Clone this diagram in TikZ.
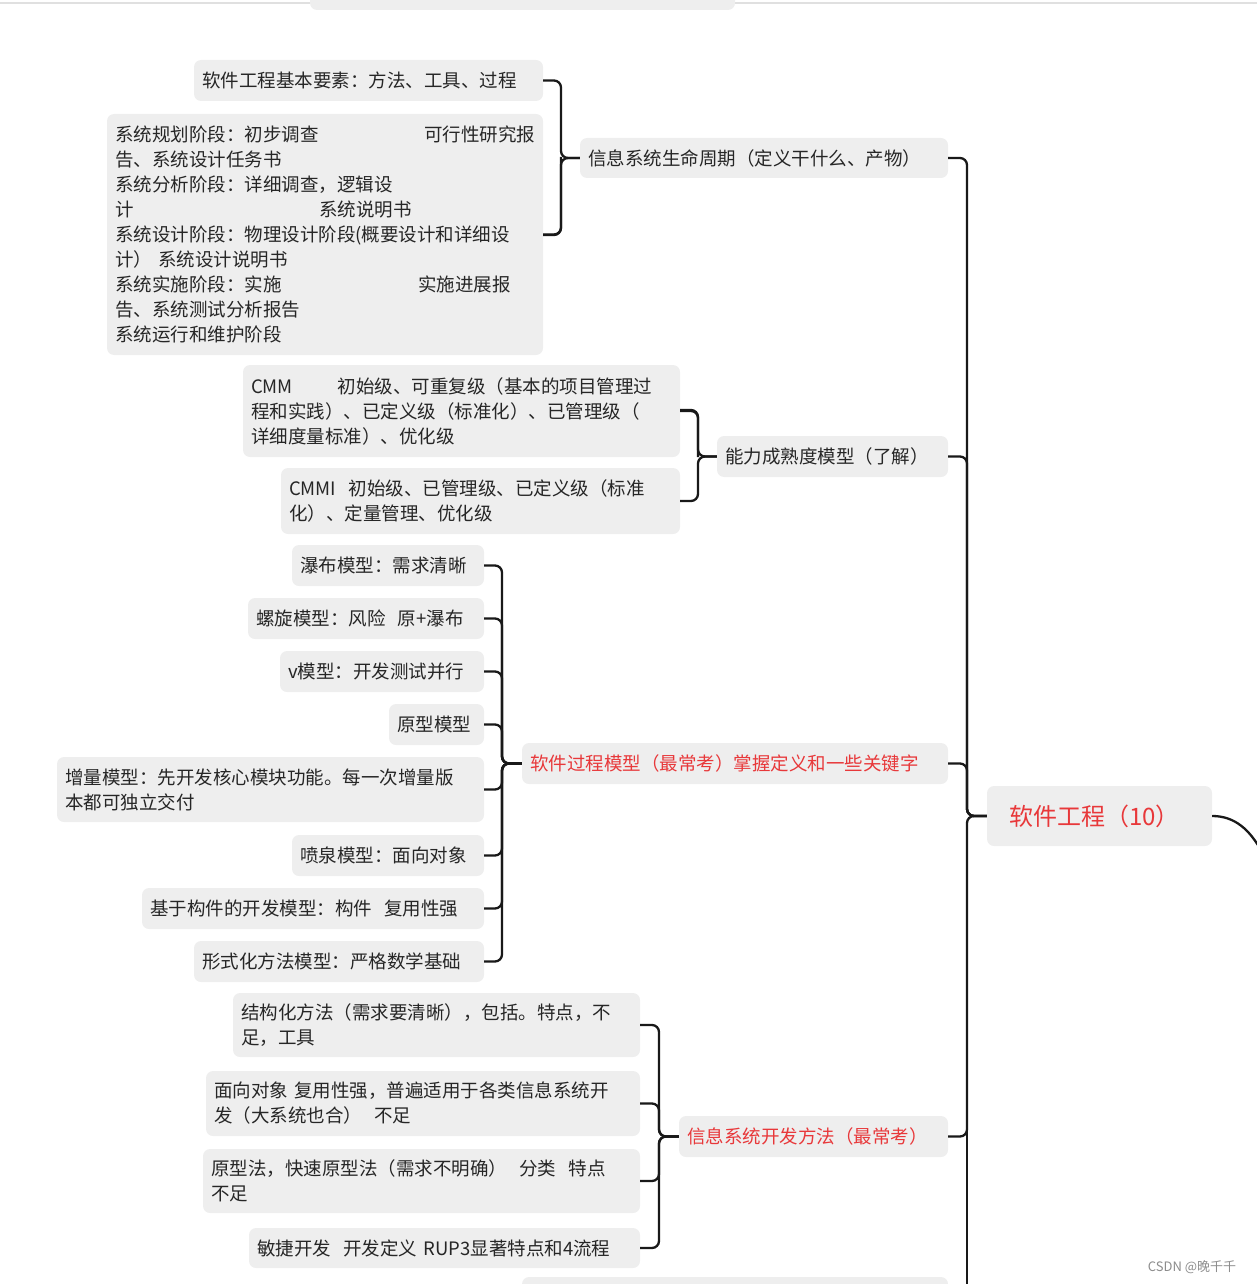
\documentclass[tikz,border=0pt]{standalone}
\usepackage{fontspec}
\setmainfont{Noto Sans CJK SC}
\definecolor{bxg}{HTML}{EEEEEE}
\definecolor{myred}{HTML}{E8383A}
\tikzset{box/.style={fill=bxg,rounded corners=7pt,inner sep=0pt,align=left,font=\fontsize{18.5}{25}\selectfont,text=black!85},
conn/.style={line width=2.3pt,rounded corners=7pt,draw=black!90}}
\newcommand\bx[6][]{\pgfmathsetmacro\tw{#5-#3-16}\node[box,minimum width={(#5-#3)*1pt},minimum height={(#6-#4)*1pt},text width=\tw pt,#1] (#2) at ({(#3+#5)/2},{(#4+#6)/2}) {#6};}
\newcommand\bxx[7][]{\pgfmathsetmacro\tw{#5-#3-16}\node[box,minimum width={(#5-#3)*1pt},minimum height={(#6-#4)*1pt},text width=\tw pt,#1] (#2) at ({(#3+#5)/2},{(#4+#6)/2}) {#7};}
\begin{document}
\begin{tikzpicture}[x=1pt,y=-1pt]
\useasboundingbox (0,0) rectangle (1257,1284);
\draw[black!12,line width=1.5pt] (0,3) -- (1257,3);
\fill[bxg,rounded corners=7pt] (310,-20) rectangle (735,10);
\fill[bxg,rounded corners=7pt] (522,1277) rectangle (948,1300);
\bxx{a1}{194}{60}{543}{101}{软件工程基本要素：方法、工具、过程}
\bxx{a2}{107}{114}{543}{355}{系统规划阶段：初步调查\hfill 可行性研究报\\告、系统设计任务书\\系统分析阶段：详细调查，逻辑设\\\makebox[204pt][l]{计}系统说明书\\系统设计阶段：物理设计阶段(概要设计和详细设\\计）\ 系统设计说明书\\\makebox[303pt][l]{系统实施阶段：实施}实施进展报\\告、系统测试分析报告\\系统运行和维护阶段}
\bxx{a}{580}{138}{948}{178}{信息系统生命周期（定义干什么、产物）}
\bxx{b1}{243}{365}{680}{457}{\makebox[87pt][l]{CMM}初始级、可重复级（基本的项目管理过\\程和实践）、已定义级（标准化）、已管理级（\\详细度量标准）、优化级}
\bxx{b2}{281}{468}{680}{534}{CMMI\ \ 初始级、已管理级、已定义级（标准\\化）、定量管理、优化级}
\bxx{b}{717}{436}{948}{477}{能力成熟度模型（了解）}
\bxx{c1}{292}{545}{484}{586}{瀑布模型：需求清晰}
\bxx{c2}{248}{598}{484}{639}{螺旋模型：风险\ \ 原+瀑布}
\bxx{c3}{280}{651}{484}{692}{v模型：开发测试并行}
\bxx{c4}{389}{704}{484}{745}{原型模型}
\bxx{c5}{57}{757}{484}{822}{增量模型：先开发核心模块功能。每一次增量版\\本都可独立交付}
\bxx{c6}{292}{835}{484}{876}{喷泉模型：面向对象}
\bxx{c7}{142}{888}{484}{929}{基于构件的开发模型：构件\ \ 复用性强}
\bxx{c8}{194}{941}{484}{982}{形式化方法模型：严格数学基础}
\bxx[text=myred]{c}{522}{743}{948}{784}{软件过程模型（最常考）掌握定义和一些关键字}
\bxx[text=myred,font=\fontsize{24}{30}\selectfont]{r}{987}{786}{1212}{846}{\hspace*{14pt}软件工程（10）}
\bxx{d1}{233}{993}{640}{1057}{结构化方法（需求要清晰），包括。特点，不\\足，工具}
\bxx{d2}{206}{1071}{640}{1136}{面向对象 复用性强，普遍适用于各类信息系统开\\发（大系统也合）\ \ 不足}
\bxx{d3}{203}{1149}{640}{1213}{原型法，快速原型法（需求不明确）\ \ 分类\ \ 特点\\不足}
\bxx{d4}{249}{1228}{640}{1268}{敏捷开发\ \ 开发定义 RUP3显著特点和4流程}
\bxx[text=myred]{d}{679}{1116}{948}{1157}{信息系统开发方法（最常考）}
\node[text=black!45,font=\fontsize{13}{15}\selectfont] (wm) at (1192,1267) {CSDN @晚千千};
% spines
\coordinate (sa) at (561,0);
\coordinate (sb) at (698,0);
\coordinate (sc) at (502,0);
\coordinate (sd) at (659,0);
\coordinate (sr) at (967,0);
\foreach \ch/\sp/\pa in {a1/sa/a,a2/sa/a,b1/sb/b,b2/sb/b,c1/sc/c,c2/sc/c,c3/sc/c,c4/sc/c,c5/sc/c,c6/sc/c,c7/sc/c,c8/sc/c,d1/sd/d,d2/sd/d,d3/sd/d,d4/sd/d}
  \draw[conn] (\ch.east) -- (\ch.east -| \sp) -- (\sp |- \pa.west) -- (\pa.west);
\draw[conn] (a2.east |- 0,235) -- (561,235) -- (561,157);
\draw[conn] (b1.east |- 0,410) -- (698,410) -- (698,457);
\foreach \ch in {a,b,c,d}
  \draw[conn] (\ch.east) -- (\ch.east -| sr) -- (sr |- r.west) -- (r.west);
\draw[conn,rounded corners=0pt] (967,1100) -- (967,1290);
\draw[conn,rounded corners=0pt] (r.east) .. controls (1235,816) and (1250,830) .. (1262,852);
\end{tikzpicture}
\end{document}
